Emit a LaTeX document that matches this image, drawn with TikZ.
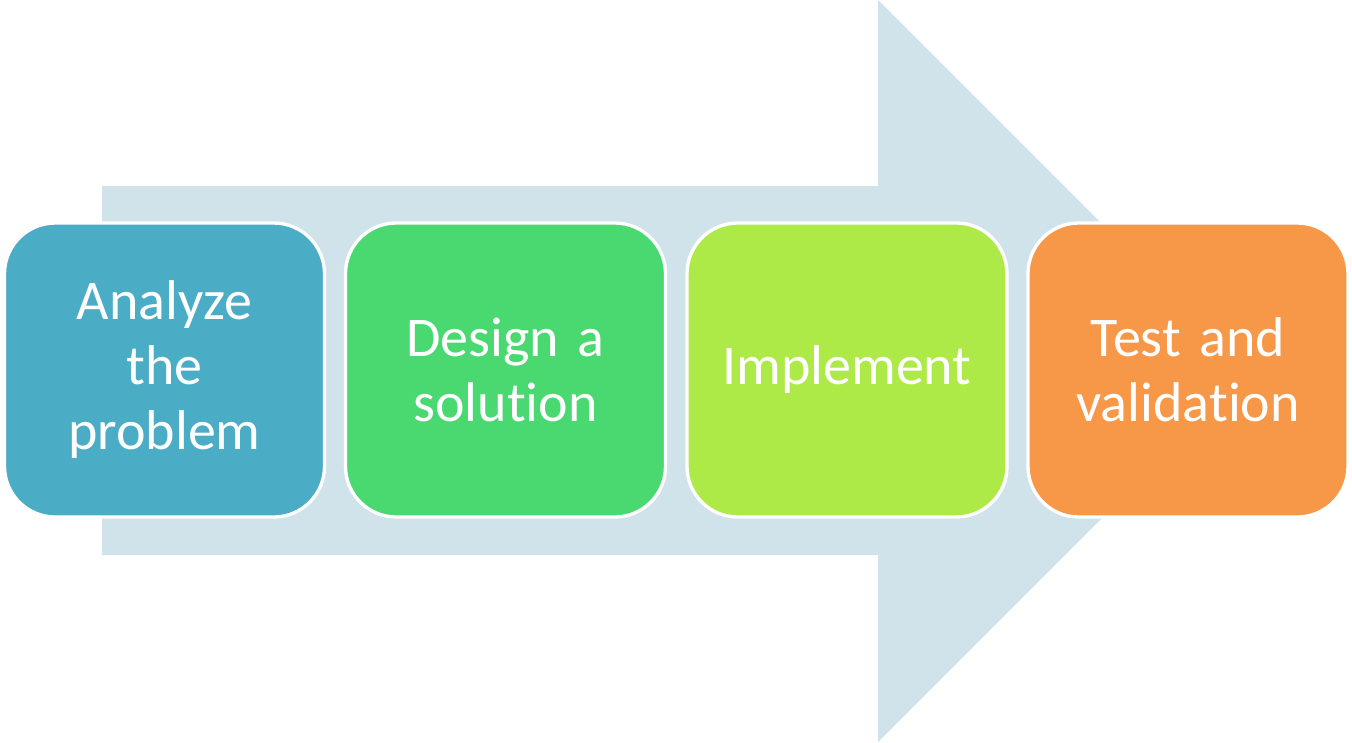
\documentclass[tikz,border=0pt]{standalone}
\usepackage{fontspec}
\setmainfont[RawFeature={-liga;-calt;-clig;-dlig}]{Carlito}
\definecolor{arrowc}{HTML}{D0E3EA}
\definecolor{c1}{HTML}{4BACC6}
\definecolor{c2}{HTML}{4AD871}
\definecolor{c3}{HTML}{ADEA48}
\definecolor{c4}{HTML}{F79748}
\tikzset{
  stepbox/.style={draw=white, line width=2.5pt, rounded corners=38pt,
    minimum width=240pt, minimum height=220.5pt, inner sep=0pt,
    text width=230pt, align=center, text=white,
    font=\fontsize{42pt}{48.75pt}\selectfont},
  bigarrow/.style={fill=arrowc, draw=none}
}
\begin{document}
\begin{tikzpicture}[x=0.75pt,y=-0.75pt]
\useasboundingbox (0,0) rectangle (1352,742);
\fill[bigarrow] (102,186) -- (878,186) -- (878,0) -- (1249,371) -- (878,742) -- (878,555) -- (102,555) -- cycle;
\node[stepbox, fill=c1] (a) at (164.5,370) {Analyze\\the\\problem};
\node[stepbox, fill=c2] (b) at (505.5,370) {Design a\\solu\kern0pt tion};
\node[stepbox, fill=c3] (c) at (847,370) {Implement};
\node[stepbox, fill=c4] (d) at (1188,370) {Test and\\valida\kern0pt tion};
\end{tikzpicture}
\end{document}
